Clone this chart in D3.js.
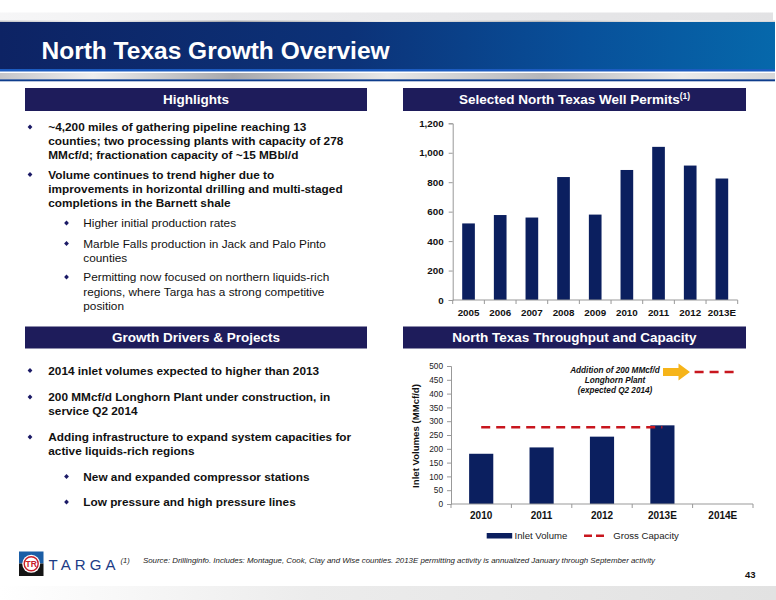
<!DOCTYPE html>
<html><head><meta charset="utf-8">
<script src="https://cdn.jsdelivr.net/npm/d3@7"></script>
<style>
html,body{margin:0;padding:0;background:#fff;}
svg{display:block;font-family:"Liberation Sans",Arial,Helvetica,sans-serif;}
</style></head>
<body>
<svg id="chart" width="776" height="600"></svg>
<script>
// ---------- data ----------
const title = "North Texas Growth Overview";
const permitYears = ["2005","2006","2007","2008","2009","2010","2011","2012","2013E"];
const permitValues = [520, 577, 560, 835, 580, 883, 1040, 913, 825];
const permitTicks = [0, 200, 400, 600, 800, 1000, 1200];

const throughputYears = ["2010","2011","2012","2013E","2014E"];
const inletVolume = [182, 205, 244, 285, null];
const grossCapacity = [278, 278, 278, 278, 478];
const throughputTicks = [0,50,100,150,200,250,300,350,400,450,500];

const highlights = [
  {lvl:0, lines:["~4,200 miles of gathering pipeline reaching 13","counties; two processing plants with capacity of 278","MMcf/d; fractionation capacity of ~15 MBbl/d"]},
  {lvl:0, lines:["Volume continues to trend higher due to","improvements in horizontal drilling and multi-staged","completions in the Barnett shale"]},
  {lvl:1, lines:["Higher initial production rates"]},
  {lvl:1, lines:["Marble Falls production in Jack and Palo Pinto","counties"]},
  {lvl:1, lines:["Permitting now focused on northern liquids-rich","regions, where Targa has a strong competitive","position"]}
];
const highlightBaselines = [[131,145,159],[178.5,193,207],[227],[247.5,261.5],[281,296,309.5]];

const drivers = [
  {lvl:0, lines:["2014 inlet volumes expected to higher than 2013"]},
  {lvl:0, lines:["200 MMcf/d Longhorn Plant under construction, in","service Q2 2014"]},
  {lvl:0, lines:["Adding infrastructure to expand system capacities for","active liquids-rich regions"]},
  {lvl:1, lines:["New and expanded compressor stations"]},
  {lvl:1, lines:["Low pressure and high pressure lines"]}
];
const driverBaselines = [[374.5],[401,414.5],[441,455],[480.5],[506]];

const annotationLines = ["Addition of 200 MMcf/d","Longhorn Plant","(expected Q2 2014)"];
const footnote = "Source: Drillinginfo. Includes: Montague, Cook, Clay and Wise counties. 2013E permitting activity is annualized January through September activity";

// ---------- drawing ----------
const svg = d3.select("#chart");
const defs = svg.append("defs");

function hGrad(id, stops){
  const g = defs.append("linearGradient").attr("id", id).attr("x1","0%").attr("x2","100%").attr("y1","0%").attr("y2","0%");
  stops.forEach(s => g.append("stop").attr("offset", s[0]).attr("stop-color", s[1]));
}
hGrad("banner", [["0%","#0d2364"],["45%","#0c3278"],["75%","#08509a"],["100%","#0668ab"]]);
hGrad("silver", [["0%","#c4c5c9"],["12%","#eeeeee"],["30%","#a6a7ab"],["50%","#e8e8e8"],["70%","#b5b6ba"],["88%","#eaeaea"],["100%","#d6d6d8"]]);
hGrad("topgray", [["0%","#f6f6f7"],["50%","#e9e9eb"],["100%","#e2e2e4"]]);
hGrad("bottomgray", [["0%","#ffffff"],["40%","#ececec"],["100%","#e2e2e2"]]);

// header
svg.append("rect").attr("x",0).attr("y",12.5).attr("width",773).attr("height",8).attr("fill","url(#topgray)");
svg.append("rect").attr("x",0).attr("y",20.5).attr("width",775).attr("height",2).attr("fill","url(#silver)");
svg.append("rect").attr("x",0).attr("y",22).attr("width",775).attr("height",47).attr("fill","url(#banner)");
svg.append("rect").attr("x",0).attr("y",69).attr("width",775).attr("height",2.5).attr("fill","#1d5cc0");
svg.append("rect").attr("x",0).attr("y",73).attr("width",775).attr("height",6).attr("fill","url(#silver)");
svg.append("rect").attr("x",0).attr("y",79.3).attr("width",775).attr("height",2).attr("fill","#0e3c8c");
svg.append("text").attr("x",41.5).attr("y",58.5).attr("fill","#fff").attr("font-size",24.5).attr("font-weight","bold").text(title);

// section header boxes
function sectionBox(x, y, w, h, label, sup){
  svg.append("rect").attr("x",x).attr("y",y).attr("width",w).attr("height",h).attr("fill","#1e1c5b");
  const t = svg.append("text").attr("x",x+w/2).attr("y",y+h/2+4.8).attr("text-anchor","middle")
    .attr("fill","#fff").attr("font-size",13.5).attr("font-weight","bold").text(label);
  if (sup) t.append("tspan").attr("font-size",8.5).attr("dy",-5).text(sup);
}
sectionBox(25, 88, 342, 23, "Highlights");
sectionBox(403, 88, 343, 23, "Selected North Texas Well Permits", "(1)");
sectionBox(25, 326.5, 342, 22, "Growth Drivers & Projects");
sectionBox(403, 326.5, 343, 22, "North Texas Throughput and Capacity");

// bullet lists
function bullets(items, baselines, bold){
  items.forEach((it, i) => {
    const bx = it.lvl === 0 ? 30 : 66.5;
    const tx = it.lvl === 0 ? 48.3 : 83.3;
    const b0 = baselines[i][0];
    const cy = b0 - 4;
    svg.append("path").attr("d", `M${bx},${cy-2.6}L${bx+2.4},${cy}L${bx},${cy+2.6}L${bx-2.4},${cy}Z`).attr("fill","#1b1a66");
    it.lines.forEach((ln, j) => {
      svg.append("text").attr("x",tx).attr("y",baselines[i][j]).attr("font-size",11.8)
        .attr("font-weight", (bold || it.lvl===0) ? "bold" : "normal").attr("fill","#111").text(ln);
    });
  });
}
bullets(highlights, highlightBaselines, false);
bullets(drivers, driverBaselines, true);

// ---------- Permits chart ----------
const px = d3.scaleBand().domain(permitYears).range([452.7, 737.7]).paddingInner(0.6).paddingOuter(0.3);
const py = d3.scaleLinear().domain([0,1200]).range([300, 123.3]);
const pg = svg.append("g");
pg.selectAll("rect.pbar").data(permitValues).join("rect").attr("class","pbar")
  .attr("x",(d,i)=>px(permitYears[i])).attr("width",px.bandwidth())
  .attr("y",d=>py(d)).attr("height",d=>py(0)-py(d)).attr("fill","#0b1f5f");
const pyAxis = pg.append("g").attr("transform","translate(452.7,0)")
  .call(d3.axisLeft(py).tickValues(permitTicks).tickSize(4).tickPadding(5).tickFormat(d3.format(",")));
pyAxis.selectAll("text").attr("font-size",9.8).attr("font-weight","bold").attr("fill","#111").attr("font-family","Liberation Sans, Arial, sans-serif");
const pxAxisG = pg.append("g").attr("transform","translate(0,300)");
pxAxisG.append("line").attr("x1",452.7).attr("x2",737.7).attr("stroke","#999");
const pStep = px.step();
pxAxisG.selectAll("line.tk").data(d3.range(permitYears.length+1)).join("line").attr("class","tk")
  .attr("x1",i=>452.7+i*(285/permitYears.length)).attr("x2",i=>452.7+i*(285/permitYears.length)).attr("y1",0).attr("y2",4).attr("stroke","#999");
pxAxisG.selectAll("text").data(permitYears).join("text")
  .attr("x",d=>px(d)+px.bandwidth()/2).attr("y",15.5).attr("text-anchor","middle")
  .attr("font-size",9.8).attr("font-weight","bold").attr("fill","#111").text(d=>d);
pyAxis.select(".domain").attr("stroke","#999");
pyAxis.selectAll(".tick line").attr("stroke","#999");

// ---------- Throughput chart ----------
const tx = d3.scaleBand().domain(throughputYears).range([451, 753]).paddingInner(0.6).paddingOuter(0.3);
const ty = d3.scaleLinear().domain([0,500]).range([504, 366]);
const tg = svg.append("g");
tg.selectAll("rect.tbar").data(inletVolume).join("rect").attr("class","tbar")
  .filter(d=>d!=null)
  .attr("x",(d,i)=>tx(throughputYears[i])).attr("width",tx.bandwidth())
  .attr("y",d=>ty(d)).attr("height",d=>ty(0)-ty(d)).attr("fill","#0b1f5f");
const tyAxis = tg.append("g").attr("transform","translate(451,0)")
  .call(d3.axisLeft(ty).tickValues(throughputTicks).tickSize(4).tickPadding(4));
tyAxis.selectAll("text").attr("font-size",8.3).attr("fill","#222").attr("font-family","Liberation Sans, Arial, sans-serif");
tyAxis.select(".domain").attr("stroke","#999");
tyAxis.selectAll(".tick line").attr("stroke","#999");
const txAxisG = tg.append("g").attr("transform","translate(0,504)");
txAxisG.append("line").attr("x1",451).attr("x2",753).attr("stroke","#999");
const tStep = (753-451)/throughputYears.length;
txAxisG.selectAll("line.tk").data(d3.range(throughputYears.length+1)).join("line").attr("class","tk")
  .attr("x1",i=>451+i*tStep).attr("x2",i=>451+i*tStep).attr("y1",0).attr("y2",4).attr("stroke","#999");
txAxisG.selectAll("text").data(throughputYears).join("text")
  .attr("x",d=>tx(d)+tx.bandwidth()/2).attr("y",15).attr("text-anchor","middle")
  .attr("font-size",10).attr("font-weight","bold").attr("fill","#111").text(d=>d);

// gross capacity: existing (2010-2013E) and planned 2014E
const capColor = "#c8161e";
const capLine = d3.line().defined((d,i)=>i<4).x((d,i)=>tx(throughputYears[i])+tx.bandwidth()/2).y(d=>ty(d));
tg.append("path").datum(grossCapacity).attr("d",capLine).attr("fill","none")
  .attr("stroke",capColor).attr("stroke-width",2.6).attr("stroke-dasharray","9,6");
const lastI = grossCapacity.length-1;
const bandStart = 451 + lastI*tStep;
tg.append("line").attr("x1",bandStart+2).attr("x2",bandStart+0.7*tStep)
  .attr("y1",ty(grossCapacity[lastI])).attr("y2",ty(grossCapacity[lastI]))
  .attr("stroke",capColor).attr("stroke-width",2.6).attr("stroke-dasharray","9,6");

// arrow + annotation
const ay = ty(grossCapacity[lastI]);
const ax0 = 663, ax1 = 690;
tg.append("path").attr("d",
  `M${ax0},${ay-4}L${ax0+15.5},${ay-4}L${ax0+15.5},${ay-8.5}L${ax1},${ay}L${ax0+15.5},${ay+8.5}L${ax0+15.5},${ay+4}L${ax0},${ay+4}Z`)
  .attr("fill","#f6b419");
annotationLines.forEach((ln,i)=>{
  tg.append("text").attr("x",615).attr("y",373+i*10.2).attr("text-anchor","middle")
    .attr("font-size",8.2).attr("font-style","italic").attr("font-weight","bold").attr("fill","#111").text(ln);
});

// y axis title
tg.append("text").attr("transform","translate(418.5,436) rotate(-90)").attr("text-anchor","middle")
  .attr("font-size",9.6).attr("font-weight","bold").attr("fill","#111").text("Inlet Volumes (MMcf/d)");

// legend
const lg = tg.append("g");
lg.append("rect").attr("x",486.7).attr("y",533).attr("width",25.5).attr("height",5.5).attr("fill","#0b1f5f");
lg.append("text").attr("x",514.5).attr("y",539.2).attr("font-size",9.6).attr("fill","#222").text("Inlet Volume");
lg.append("line").attr("x1",584).attr("x2",607.5).attr("y1",535.7).attr("y2",535.7)
  .attr("stroke",capColor).attr("stroke-width",2.6).attr("stroke-dasharray","8,4");
lg.append("text").attr("x",613.3).attr("y",539.2).attr("font-size",9.6).attr("fill","#222").text("Gross Capacity");

// ---------- footer ----------
const logo = svg.append("g");
logo.append("rect").attr("x",19).attr("y",551.5).attr("width",24.5).attr("height",12).attr("fill","#1b5ea6");
logo.append("rect").attr("x",19).attr("y",563.5).attr("width",24.5).attr("height",12.5).attr("fill","#151515");
logo.append("circle").attr("cx",31.2).attr("cy",563.8).attr("r",9).attr("fill","#fff");
logo.append("circle").attr("cx",31.2).attr("cy",563.8).attr("r",7).attr("fill","none").attr("stroke","#c8202a").attr("stroke-width",1.4);
logo.append("text").attr("x",31.2).attr("y",567.2).attr("text-anchor","middle").attr("font-size",8.5).attr("font-weight","bold").attr("fill","#c8202a").text("TR");
logo.append("text").attr("x",48.5).attr("y",569.5).attr("font-size",15).attr("letter-spacing",4.1).attr("fill","#1c3c86").text("TARGA");
svg.append("text").attr("x",120.5).attr("y",563).attr("font-size",7.5).attr("font-style","italic").attr("fill","#222").text("(1)");
svg.append("text").attr("x",143).attr("y",563).attr("font-size",7.6).attr("font-style","italic").attr("fill","#222")
  .attr("textLength",512).attr("lengthAdjust","spacingAndGlyphs").text(footnote);
svg.append("text").attr("x",745).attr("y",578).attr("font-size",9.5).attr("font-weight","bold").attr("fill","#111").text("43");
svg.append("rect").attr("x",0).attr("y",586).attr("width",776).attr("height",14).attr("fill","url(#bottomgray)");
</script>
</body></html>
